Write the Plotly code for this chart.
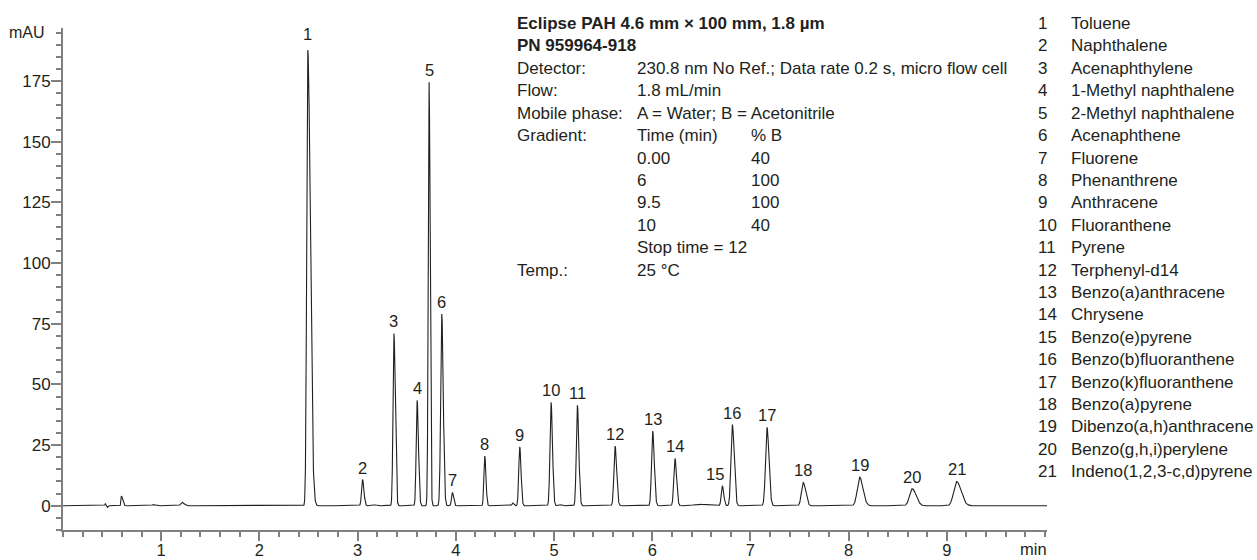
import numpy as np
import plotly.graph_objects as go

# ---- Chromatogram data -------------------------------------------------------
peak_numbers = list(range(1, 22))
compounds = [
    "Toluene", "Naphthalene", "Acenaphthylene", "1-Methyl naphthalene",
    "2-Methyl naphthalene", "Acenaphthene", "Fluorene", "Phenanthrene",
    "Anthracene", "Fluoranthene", "Pyrene", "Terphenyl-d14",
    "Benzo(a)anthracene", "Chrysene", "Benzo(e)pyrene", "Benzo(b)fluoranthene",
    "Benzo(k)fluoranthene", "Benzo(a)pyrene", "Dibenzo(a,h)anthracene",
    "Benzo(g,h,i)perylene", "Indeno(1,2,3-c,d)pyrene",
]
retention_min = [2.493, 3.050, 3.370, 3.606, 3.728, 3.857, 3.965, 4.295, 4.651,
                 4.970, 5.238, 5.622, 6.005, 6.232, 6.714, 6.816, 7.169, 7.538,
                 8.112, 8.648, 9.100]
height_mau = [187.8, 10.8, 71.0, 43.5, 174.5, 79.0, 5.5, 20.5, 24.3, 42.6, 41.4,
              24.6, 30.8, 19.5, 8.2, 33.4, 32.3, 9.6, 11.8, 7.0, 10.0]
front_sigma = [0.011, 0.010, 0.0095, 0.0095, 0.0085, 0.011, 0.009, 0.009, 0.010,
               0.011, 0.011, 0.012, 0.012, 0.012, 0.011, 0.014, 0.015, 0.018,
               0.024, 0.027, 0.030]
tailing = [2.3, 1.4, 1.4, 1.4, 1.2, 1.35, 1.3, 1.3, 1.3, 1.3, 1.3, 1.3, 1.3, 1.3,
           1.3, 1.3, 1.3, 1.35, 1.4, 1.45, 1.5]

# small unlabelled baseline features
minor_rt = [0.432, 0.452, 0.595, 0.920, 1.210, 3.170, 4.580, 5.060, 6.480]
minor_height = [0.9, -0.7, 4.0, 0.5, 1.4, 0.4, 1.1, 0.5, 0.6]
minor_sigma = [0.004, 0.004, 0.005, 0.012, 0.012, 0.020, 0.008, 0.015, 0.060]
minor_tailing = [1.0, 1.0, 2.5, 1.5, 2.0, 1.0, 1.3, 1.0, 1.0]

# method conditions
gradient_time = ["0.00", "6", "9.5", "10"]
gradient_b = ["40", "100", "100", "40"]

x_ticks = [1, 2, 3, 4, 5, 6, 7, 8, 9]
y_ticks = [0, 25, 50, 75, 100, 125, 150, 175]

# ---- Build detector trace from the peak table --------------------------------
t = np.round(np.arange(0, 10021) * 0.001, 3)
signal = np.zeros_like(t)
for rt, h, s, tf in zip(retention_min + minor_rt, height_mau + minor_height,
                        front_sigma + minor_sigma, tailing + minor_tailing):
    sig = np.where(t < rt, s, s * tf)
    signal += h * np.exp(-0.5 * ((t - rt) / sig) ** 2)

# ---- Styling -----------------------------------------------------------------
W, H = 1257, 560
L, R, T, B = 63, 210, 28, 30
PW, PH = W - L - R, H - T - B
AXIS = "#808080"
INK = "#231f20"
FONT = "Liberation Sans, Arial, sans-serif"


def px_x(x):
    return (x - L) / PW


def px_y(y):
    return (H - B - y) / PH


fig = go.Figure()
fig.add_trace(go.Scatter(x=t, y=signal, mode="lines",
                         line=dict(color=INK, width=1.1), hoverinfo="skip"))

annotations = []

# peak numbers above each apex
label_shift = {15: (-7, 0), 1: (0, 4)}
for n, rt, h in zip(peak_numbers, retention_min, height_mau):
    dx, dy = label_shift.get(n, (0, 0))
    annotations.append(dict(x=rt, y=h, xref="x", yref="y", text=str(n),
                            showarrow=False, xanchor="center", yanchor="bottom",
                            xshift=dx, yshift=1 + dy,
                            font=dict(family=FONT, size=16.5, color=INK)))

# y axis unit in place of the top tick label
annotations.append(dict(x=px_x(47), y=195, xref="paper", yref="y", text="mAU",
                        showarrow=False, xanchor="right", yanchor="middle",
                        font=dict(family=FONT, size=16, color=INK)))
# x axis unit
annotations.append(dict(x=px_x(1033), y=0, xref="paper", yref="paper",
                        text="min", showarrow=False, xanchor="center",
                        yanchor="middle", yshift=-19,
                        font=dict(family=FONT, size=16.5, color=INK)))

# method description block
LINE0, STEP = 23.6, 22.4
COL1, COL2, COL3 = 515, 635, 749
rows = [
    [("<b>Eclipse PAH 4.6 mm × 100 mm, 1.8 µm</b>", COL1)],
    [("<b>PN 959964-918</b>", COL1)],
    [("Detector:", COL1), ("230.8 nm No Ref.; Data rate 0.2 s, micro flow cell", COL2)],
    [("Flow:", COL1), ("1.8 mL/min", COL2)],
    [("Mobile phase:", COL1), ("A = Water; B = Acetonitrile", COL2)],
    [("Gradient:", COL1), ("Time (min)", COL2), ("% B", COL3)],
]
for gt, gb in zip(gradient_time, gradient_b):
    rows.append([(gt, COL2), (gb, COL3)])
rows.append([("Stop time = 12", COL2)])
rows.append([("Temp.:", COL1), ("25 °C", COL2)])

for i, row in enumerate(rows):
    y = LINE0 + i * STEP
    for txt, x in row:
        annotations.append(dict(x=px_x(x), y=px_y(y), xref="paper", yref="paper",
                                text=txt, showarrow=False, xanchor="left",
                                yanchor="middle",
                                font=dict(family=FONT, size=17, color=INK)))

# compound key
for i, (n, name) in enumerate(zip(peak_numbers, compounds)):
    y = LINE0 + i * STEP
    annotations.append(dict(x=px_x(1036), y=px_y(y), xref="paper", yref="paper",
                            text=str(n), showarrow=False, xanchor="left",
                            yanchor="middle",
                            font=dict(family=FONT, size=17, color=INK)))
    annotations.append(dict(x=px_x(1069), y=px_y(y), xref="paper", yref="paper",
                            text=name, showarrow=False, xanchor="left",
                            yanchor="middle",
                            font=dict(family=FONT, size=17, color=INK)))

fig.update_layout(
    width=W, height=H,
    margin=dict(l=L, r=R, t=T, b=B),
    paper_bgcolor="white", plot_bgcolor="white",
    showlegend=False,
    annotations=annotations,
    xaxis=dict(
        range=[0, 10.02], tickmode="array", tickvals=x_ticks, automargin=False,
        ticks="outside", ticklen=9, tickwidth=1.5, tickcolor=AXIS,
        showline=True, linecolor=AXIS, linewidth=1.8,
        showgrid=False, zeroline=False, ticklabelstandoff=-5,
        tickfont=dict(family=FONT, size=16.5, color=INK),
        minor=dict(tickmode="linear", tick0=0, dtick=0.2, ticks="outside",
                   ticklen=5, tickwidth=1.5, tickcolor=AXIS, showgrid=False),
    ),
    yaxis=dict(
        range=[-10, 196.9], tickmode="array", tickvals=y_ticks, automargin=False,
        ticks="outside", ticklen=10, tickwidth=1.5, tickcolor=AXIS,
        showline=True, linecolor=AXIS, linewidth=1.8,
        showgrid=False, zeroline=False, ticklabelstandoff=-3,
        tickfont=dict(family=FONT, size=17, color=INK),
        minor=dict(tickmode="linear", tick0=0, dtick=5, ticks="outside",
                   ticklen=5, tickwidth=1.5, tickcolor=AXIS, showgrid=False),
    ),
)

fig.write_html("out.html")
